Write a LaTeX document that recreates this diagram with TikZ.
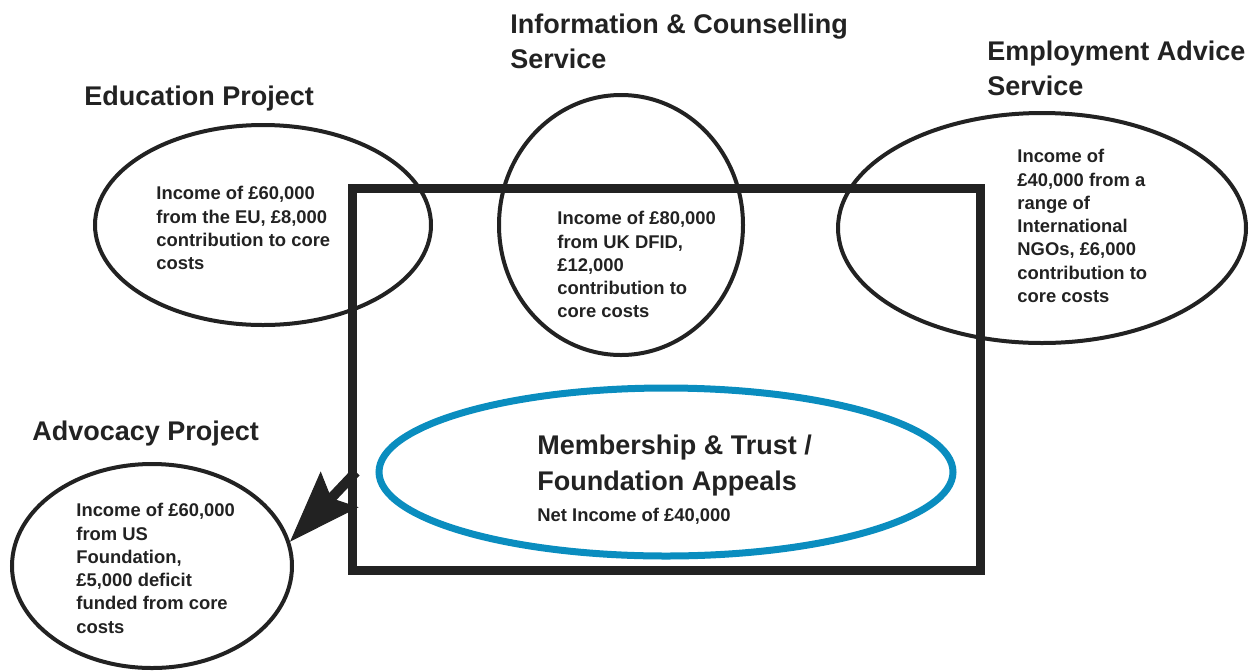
\documentclass[tikz,border=0pt]{standalone}
\usepackage{fontspec}
\setmainfont{Liberation Sans}
\usetikzlibrary{shapes.geometric,arrows.meta}
\definecolor{ink}{HTML}{222222}
\definecolor{appeal}{HTML}{0A8DBF}
\begin{document}
\begin{tikzpicture}[x=0.5pt,y=-0.5pt,
  oval/.style={ellipse, draw=ink, line width=2pt, inner sep=0pt},
  heading/.style={anchor=north west, inner sep=0pt, align=left, text=ink,
    font=\fontsize{13.5}{17.5}\selectfont\bfseries},
  body/.style={anchor=north west, inner sep=0pt, align=left, text=ink,
    font=\fontsize{9.2}{11.65}\selectfont\bfseries},
  big/.style={anchor=north west, inner sep=0pt, align=left, text=ink,
    font=\fontsize{13.5}{18}\selectfont\bfseries},
  arrowline/.style={draw=ink, fill=ink, line width=5pt,
    -{Stealth[length=36pt, width=26pt, inset=6pt, line width=0.5pt]}}]
\useasboundingbox (0,0) rectangle (1254,671);
% ellipses
\node[oval, minimum width=168pt, minimum height=100pt] (edu) at (263,225) {};
\node[oval, minimum width=122pt, minimum height=130pt] (info) at (621,225) {};
\node[oval, minimum width=204pt, minimum height=115pt] (emp) at (1042,228) {};
\node[oval, minimum width=140pt, minimum height=102pt] (adv) at (152,566) {};
% arrow
\coordinate (arrS) at (356,472);
\draw[arrowline] (arrS) -- (adv.10);
% core box
\node[draw=ink, line width=4.5pt, minimum width=314pt, minimum height=191pt, inner sep=0pt] (box) at (666,379) {};
\node[ellipse, draw=appeal, line width=3.5pt, inner sep=0pt, minimum width=287pt, minimum height=84pt] (appeal) at (666,472) {};
% headings
\node[heading] (hinfo) at (510,14) {Information \& Counselling\\Service};
\node[heading] (hemp) at (987,41) {Employment Advice\\Service};
\node[heading] (hedu) at (84,86) {Education Project};
\node[heading] (hadv) at (32,421) {Advocacy Project};
% bodies
\node[body] (tedu) at (156,186) {Income of £60,000\\from the EU, £8,000\\contribution to core\\costs};
\node[body] (tinfo) at (557,211) {Income of £80,000\\from UK DFID,\\£12,000\\contribution to\\core costs};
\node[body] (temp) at (1017,149) {Income of\\£40,000 from a\\range of\\International\\NGOs, £6,000\\contribution to\\core costs};
\node[body] (tadv) at (76,503) {Income of £60,000\\from US\\Foundation,\\£5,000 deficit\\funded from core\\costs};
\node[big] (tapp) at (537,435) {Membership \& Trust /\\Foundation Appeals};
\node[body] (tnet) at (537,508) {Net Income of £40,000};
\end{tikzpicture}
\end{document}
